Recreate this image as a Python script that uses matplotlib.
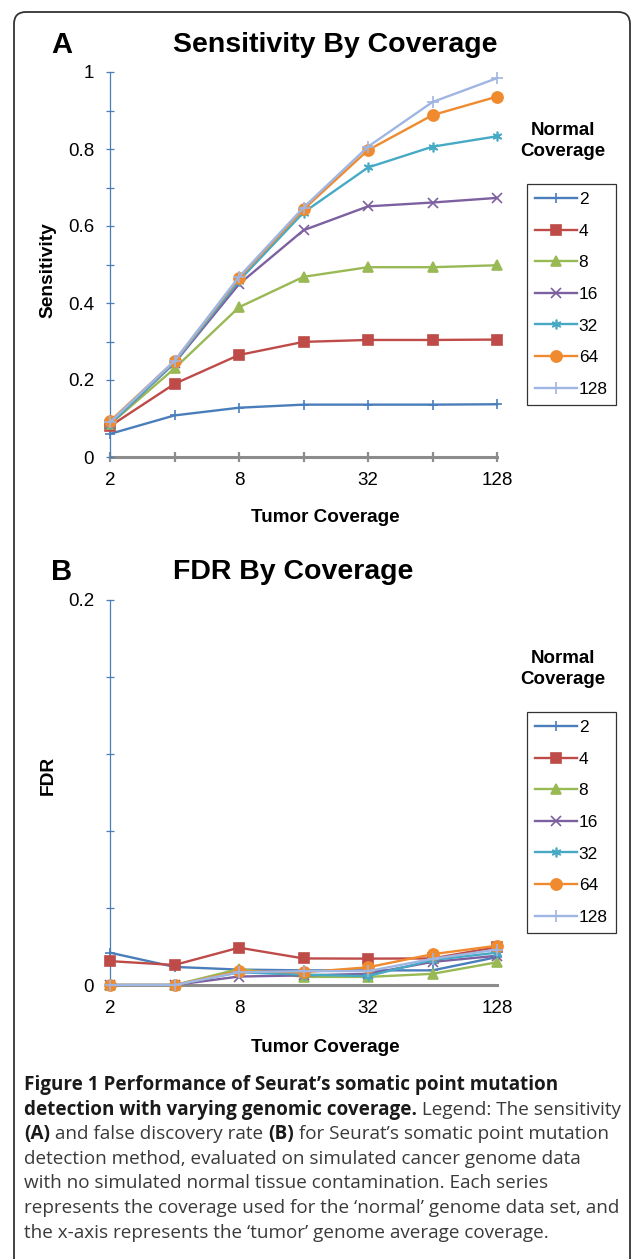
import matplotlib
matplotlib.use("Agg")
import matplotlib.pyplot as plt
from matplotlib.patches import FancyBboxPatch
from matplotlib.ticker import FixedLocator, NullFormatter, FixedFormatter

# Tumor coverage on the x axis, one series per normal coverage
tumor_cov = [2, 4, 8, 16, 32, 64, 128]
normal_labels = ["2", "4", "8", "16", "32", "64", "128"]

sens_n2 = [0.060, 0.108, 0.128, 0.136, 0.136, 0.136, 0.137]
sens_n4 = [0.080, 0.190, 0.265, 0.299, 0.304, 0.304, 0.305]
sens_n8 = [0.085, 0.230, 0.389, 0.468, 0.493, 0.493, 0.498]
sens_n16 = [0.086, 0.244, 0.449, 0.589, 0.651, 0.661, 0.673]
sens_n32 = [0.086, 0.246, 0.458, 0.635, 0.752, 0.806, 0.833]
sens_n64 = [0.093, 0.249, 0.465, 0.643, 0.797, 0.888, 0.936]
sens_n128 = [0.090, 0.250, 0.468, 0.648, 0.806, 0.922, 0.984]

fdr_n2 = [0.0168, 0.0094, 0.0080, 0.0076, 0.0076, 0.0076, 0.0145]
fdr_n4 = [0.0124, 0.0104, 0.0194, 0.0138, 0.0137, 0.0138, 0.0197]
fdr_n8 = [0.0, 0.0, 0.0083, 0.0042, 0.0042, 0.0058, 0.0118]
fdr_n16 = [0.0, 0.0, 0.0044, 0.0050, 0.0058, 0.0120, 0.0152]
fdr_n32 = [0.0, 0.0, 0.0066, 0.0054, 0.0046, 0.0130, 0.0168]
fdr_n64 = [0.0, 0.0, 0.0071, 0.0066, 0.0092, 0.0160, 0.0204]
fdr_n128 = [0.0, 0.0, 0.0066, 0.0072, 0.0072, 0.0136, 0.0184]

sens_series = [sens_n2, sens_n4, sens_n8, sens_n16, sens_n32, sens_n64, sens_n128]
fdr_series = [fdr_n2, fdr_n4, fdr_n8, fdr_n16, fdr_n32, fdr_n64, fdr_n128]

colors = ["#4A7EBB", "#BE4B48", "#98B954", "#7D60A0", "#46AAC5", "#F08A2E", "#A0B6E2"]
markers = ["+", "s", "^", "x", (6, 2, 0), "o", "+"]
msizes = [7, 7, 7.5, 7, 7, 8, 9]

W, H = 633, 1259
chart_font = "Liberation Sans"
cap_font = "Open Sans"

fig = plt.figure(figsize=(W / 100, H / 100), dpi=100)

# background layer in pixel coordinates for box and free text
bg = fig.add_axes([0, 0, 1, 1], zorder=-1)
bg.set_xlim(0, W)
bg.set_ylim(H, 0)
bg.axis("off")
bg.add_patch(FancyBboxPatch((14, 12), 616, 1290, boxstyle="round,pad=0,rounding_size=12",
                            fc="white", ec="#333333", lw=1.3))


def px_axes(left, top, right, bottom):
    return fig.add_axes([left / W, 1 - bottom / H, (right - left) / W, (bottom - top) / H])


def style_axes(ax, ymax, major, minor, xticks_marks):
    ax.set_xscale("log", base=2)
    ax.set_xlim(2, 128)
    ax.set_ylim(0, ymax)
    for s in ["top", "right"]:
        ax.spines[s].set_visible(False)
    ax.spines["left"].set_color("#4A7EBB")
    ax.spines["left"].set_linewidth(0.9)
    ax.spines["bottom"].set_color("#8C8C8C")
    ax.spines["bottom"].set_linewidth(2.2)
    ax.spines["bottom"].set_zorder(1)
    ax.xaxis.set_major_locator(FixedLocator([2, 8, 32, 128]))
    ax.xaxis.set_major_formatter(FixedFormatter(["2", "8", "32", "128"]))
    ax.xaxis.set_minor_locator(FixedLocator([4, 16, 64]))
    ax.xaxis.set_minor_formatter(NullFormatter())
    if xticks_marks:
        ax.tick_params(axis="x", which="both", direction="inout", length=7, width=1.6,
                       color="#8C8C8C", pad=7)
    else:
        ax.tick_params(axis="x", which="both", length=0, pad=11)
    ax.yaxis.set_major_locator(FixedLocator(major))
    ax.yaxis.set_minor_locator(FixedLocator(minor))
    ax.tick_params(axis="y", which="both", direction="inout", length=6, width=0.9,
                   color="#4A7EBB", pad=8.5)
    for lab in ax.get_xticklabels() + ax.get_yticklabels():
        lab.set_fontfamily(chart_font)
        lab.set_fontsize(13.5)
    ax.patch.set_alpha(0)


def draw_series(ax, series):
    for vals, c, m, ms, lab in zip(series, colors, markers, msizes, normal_labels):
        ax.plot(tumor_cov, vals, color=c, lw=1.7, marker=m, ms=ms, mec=c, mfc=c,
                mew=1.2, label=lab, clip_on=False, zorder=3)


def add_legend(ax, top):
    leg = ax.legend(loc="upper left", bbox_to_anchor=(527 / W, 1 - top / H),
                    bbox_transform=fig.transFigure, frameon=True, fancybox=False,
                    edgecolor="black", numpoints=1, handlelength=2.45, handletextpad=0.08,
                    labelspacing=0.95, borderpad=0.45, borderaxespad=0,
                    prop={"family": chart_font, "size": 12.5})
    leg.get_frame().set_linewidth(0.9)


# Panel A
axA = px_axes(110, 72, 497, 457)
draw_series(axA, sens_series)
style_axes(axA, 1.0, [0, 0.2, 0.4, 0.6, 0.8, 1.0],
           [0.1, 0.3, 0.5, 0.7, 0.9], True)
axA.yaxis.set_major_formatter(FixedFormatter(["0", "0.2", "0.4", "0.6", "0.8", "1"]))
add_legend(axA, 184)

# Panel B
axB = px_axes(110, 600, 497, 985)
draw_series(axB, fdr_series)
style_axes(axB, 0.2, [0, 0.2], [0.04, 0.08, 0.12, 0.16], False)
axB.yaxis.set_major_formatter(FixedFormatter(["0", "0.2"]))
add_legend(axB, 712)

# titles, panel letters, axis labels
bold = dict(family=chart_font, weight="bold", color="black")
for letter, title, ty in [("A", "Sensitivity By Coverage", 45), ("B", "FDR By Coverage", 572)]:
    bg.text(51, ty, letter, fontsize=21, ha="left", va="center", **bold)
    bg.text(173, ty, title, fontsize=20.5, ha="left", va="center", **bold)

bg.text(48, 270, "Sensitivity", fontsize=13.8, rotation=90, ha="center", va="center", **bold)
bg.text(48, 775, "FDR", fontsize=13.8, rotation=90, ha="center", va="center", **bold)
bg.text(325, 517, "Tumor Coverage", fontsize=13.6, ha="center", va="center", **bold)
bg.text(325, 1047, "Tumor Coverage", fontsize=13.6, ha="center", va="center", **bold)
bg.text(563, 141, "Normal\nCoverage", fontsize=13.5, ha="center", va="center",
        linespacing=1.25, **bold)
bg.text(563, 669, "Normal\nCoverage", fontsize=13.5, ha="center", va="center",
        linespacing=1.25, **bold)

# caption, mixed bold and regular runs per line
caption = [
    [("Figure 1 Performance of Seurat\u2019s somatic point mutation", "bold")],
    [("detection with varying genomic coverage.", "bold"), (" Legend: The sensitivity", "normal")],
    [("(A)", "bold"), (" and false discovery rate ", "normal"), ("(B)", "bold"),
     (" for Seurat\u2019s somatic point mutation", "normal")],
    [("detection method, evaluated on simulated cancer genome data", "normal")],
    [("with no simulated normal tissue contamination. Each series", "normal")],
    [("represents the coverage used for the \u2018normal\u2019 genome data set, and", "normal")],
    [("the x-axis represents the \u2018tumor\u2019 genome average coverage.", "normal")],
]
cap_top = 1085
for i, runs in enumerate(caption):
    y = cap_top + i * 24.6
    prev = None
    for txt, wt in runs:
        col = "#1a1a1a" if wt == "bold" else "#3a3a3a"
        if prev is None:
            prev = bg.text(24, y, txt, fontsize=13.6, family=cap_font, weight=wt,
                           color=col, ha="left", va="center")
        else:
            prev = bg.annotate(txt, xy=(1, 0.5), xycoords=prev, fontsize=13.6,
                               family=cap_font, weight=wt, color=col,
                               ha="left", va="center")

fig.savefig("out.png", dpi=100)
